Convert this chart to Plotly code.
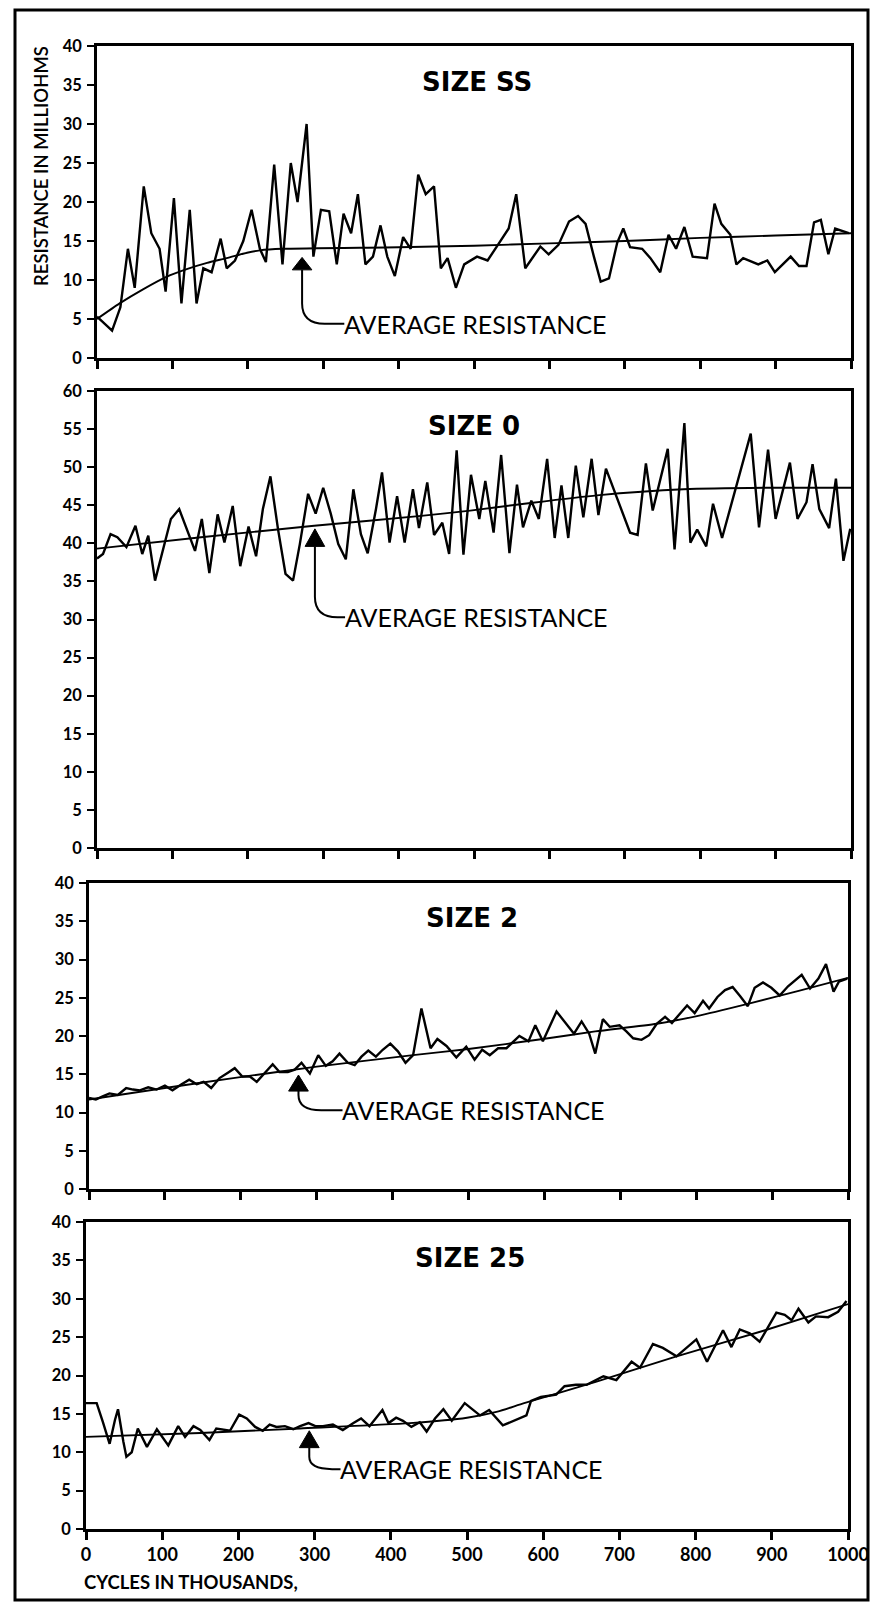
import plotly.graph_objects as go

# ---------------- data ----------------
cycle_ticks = [0, 100, 200, 300, 400, 500, 600, 700, 800, 900, 1000]
tick_labels = ["0", "100", "200", "300", "400", "500", "600", "700", "800", "900", "1000"]

ss_x = [0, 20, 31, 41, 50, 62, 72, 83, 91, 102, 112, 123, 132, 141, 152, 164, 172, 183, 194, 205,
        216, 224, 235, 246, 257, 266, 278, 287, 297, 308, 318, 327, 337, 346, 356, 366, 376, 385, 395, 406,
        416, 426, 436, 447, 456, 465, 476, 487, 504, 518, 533, 546, 556, 568, 588, 599, 612, 626, 638, 648,
        659, 668, 679, 690, 698, 707, 723, 734, 747, 758, 768, 779, 790, 809, 819, 828, 840, 848, 857, 877,
        889, 899, 920, 931, 941, 951, 960, 970, 979, 997]
ss_y = [5.3, 3.5, 6.5, 14, 9, 22, 16, 14, 8.5, 20.5, 7, 19, 7, 11.5, 11, 15.3, 11.5, 12.5, 15, 19,
        14, 12.3, 24.8, 12, 25, 20, 30, 13, 19, 18.8, 12, 18.5, 16, 21, 12, 13, 17, 13, 10.5, 15.5,
        14, 23.5, 21, 22, 11.5, 12.8, 9, 12, 13, 12.5, 14.7, 16.6, 21, 11.5, 14.3, 13.3, 14.5, 17.5, 18.2, 17.2,
        13, 9.8, 10.2, 14.8, 16.6, 14.2, 14, 12.8, 11, 15.8, 14, 16.8, 13, 12.8, 19.8, 17.2, 15.8, 12, 12.8, 12,
        12.5, 11, 13, 11.8, 11.8, 17.4, 17.7, 13.3, 16.6, 16]
ss_avg_x = [0, 30, 61, 92, 119, 146, 172, 199, 216, 246, 400, 500, 600, 700, 800, 900, 1000]
ss_avg_y = [5, 7, 8.8, 10.4, 11.4, 12.2, 12.8, 13.5, 13.8, 14, 14.2, 14.4, 14.7, 15, 15.4, 15.7, 16]

s0_x = [0, 8, 18, 27, 39, 51, 60, 68, 77, 98, 109, 130, 139, 149, 160, 169, 180, 190, 201, 211,
        220, 230, 240, 250, 260, 269, 280, 290, 300, 310, 320, 330, 340, 350, 359, 370, 378, 388, 398, 408,
        419, 427, 438, 447, 458, 467, 477, 486, 496, 507, 515, 526, 536, 547, 557, 565, 576, 586, 597, 607,
        616, 625, 635, 645, 656, 665, 675, 688, 707, 717, 728, 737, 757, 766, 779, 787, 796, 808, 817, 829,
        848, 867, 878, 890, 900, 919, 929, 941, 949, 958, 971, 980, 990, 999]
s0_y = [38, 38.6, 41.2, 40.8, 39.5, 42.3, 38.6, 41, 35.1, 43.2, 44.5, 39, 43.2, 36.1, 43.8, 40.1, 44.9, 37, 42.2, 38.3,
        44.5, 48.8, 41.9, 36, 35.1, 39.9, 46.5, 43.9, 47.3, 43.9, 39.9, 37.9, 47.1, 41.2, 38.7, 44.5, 49.3, 40.1, 46.2, 40.1,
        47.1, 42, 48, 41.1, 42.7, 38.6, 52.2, 38.5, 49, 43.2, 48.2, 41.4, 51.6, 38.7, 47.7, 42.1, 45.6, 43.2, 51.1, 40.7,
        47.6, 40.7, 50.2, 43.4, 51.1, 43.7, 49.8, 46.3, 41.4, 41.1, 50.5, 44.3, 52.4, 39.2, 55.8, 40.1, 41.8, 39.6, 45.2, 40.7,
        47.4, 54.4, 42.1, 52.3, 43.2, 50.6, 43.2, 45.4, 50.4, 44.5, 42, 48.5, 37.7, 41.9]
s0_avg_x = [0, 138, 288, 430, 495, 575, 663, 778, 885, 1000]
s0_avg_y = [39.3, 40.8, 42.3, 43.6, 44.3, 45.3, 46.3, 47.1, 47.3, 47.3]

s2_x = [0, 9, 18, 27, 38, 49, 58, 67, 78, 89, 100, 110, 122, 132, 142, 151, 161, 172, 183, 192,
        202, 212, 221, 231, 242, 251, 262, 271, 280, 291, 302, 312, 321, 330, 341, 350, 359, 368, 378, 387,
        397, 407, 417, 427, 438, 450, 459, 471, 484, 497, 508, 518, 528, 539, 550, 567, 579, 588, 598, 616,
        629, 639, 649, 659, 667, 677, 686, 699, 708, 717, 728, 738, 748, 759, 768, 779, 788, 798, 809, 817,
        828, 838, 848, 858, 868, 877, 888, 899, 910, 921, 939, 950, 961, 971, 981, 988, 999]
s2_y = [11.9, 11.7, 12.1, 12.5, 12.3, 13.2, 13, 12.9, 13.3, 13, 13.5, 12.9, 13.7, 14.3, 13.7, 14, 13.2, 14.5, 15.2, 15.8,
        14.7, 14.7, 14, 15.1, 16.3, 15.3, 15.3, 15.6, 16.5, 15.1, 17.5, 16.1, 16.7, 17.7, 16.5, 16.2, 17.3, 18.1, 17.3, 18.2,
        19, 18, 16.5, 17.5, 23.6, 18.4, 19.6, 18.7, 17.2, 18.6, 16.9, 18.2, 17.5, 18.4, 18.4, 20, 19.3, 21.4, 19.3, 23.2,
        21.6, 20.3, 21.9, 20.3, 17.7, 22.2, 21.2, 21.4, 20.6, 19.7, 19.5, 20.1, 21.6, 22.5, 21.7, 23, 24, 23, 24.6, 23.6,
        25.1, 26, 26.4, 25.2, 23.9, 26.3, 27, 26.3, 25.3, 26.5, 28, 26.2, 27.5, 29.4, 25.8, 27.1, 27.5]
s2_avg_x = [0, 100, 190, 300, 427, 500, 598, 667, 748, 801, 868, 935, 1000]
s2_avg_y = [11.7, 13.2, 14.5, 16, 17.5, 18.3, 19.6, 20.6, 21.6, 22.6, 24.2, 25.9, 27.6]

s25_x = [0, 14, 22, 31, 38, 42, 49, 53, 60, 68, 80, 93, 108, 121, 130, 141, 150, 162, 171, 189,
         201, 211, 222, 232, 241, 250, 261, 272, 281, 292, 301, 311, 324, 337, 351, 361, 372, 389, 397, 407,
         416, 427, 438, 447, 458, 469, 480, 497, 517, 529, 547, 578, 584, 597, 617, 628, 643, 657, 679, 696,
         716, 727, 744, 757, 775, 801, 815, 836, 847, 858, 871, 884, 906, 917, 926, 935, 948, 958, 974, 987, 998]
s25_y = [16.4, 16.4, 14, 11.1, 14.2, 15.6, 11.4, 9.4, 10, 13.1, 10.7, 13, 10.9, 13.4, 12, 13.4, 12.9, 11.6, 13.1, 12.8,
         14.9, 14.4, 13.3, 12.8, 13.6, 13.3, 13.4, 13, 13.4, 13.8, 13.4, 13.4, 13.6, 12.9, 13.8, 14.4, 13.4, 15.5, 13.8, 14.5,
         14.1, 13.3, 13.9, 12.7, 14.4, 15.6, 14.1, 16.4, 14.8, 15.5, 13.5, 14.8, 16.7, 17.2, 17.5, 18.6, 18.8, 18.8, 19.9, 19.4,
         21.8, 21, 24.1, 23.6, 22.5, 24.7, 21.8, 25.9, 23.7, 26, 25.5, 24.4, 28.2, 27.9, 27.2, 28.7, 26.9, 27.7, 27.6, 28.3, 29.7]
s25_avg_x = [0, 150, 281, 425, 500, 540, 575, 670, 775, 888, 1000]
s25_avg_y = [12, 12.5, 13.1, 13.8, 14.5, 15.3, 16.4, 19.2, 22.5, 25.8, 29.3]

titles = ["SIZE SS", "SIZE 0", "SIZE 2", "SIZE 25"]
y_tops = [40, 60, 40, 40]
avg_label = "AVERAGE RESISTANCE"
y_title = "RESISTANCE IN MILLIOHMS"
x_title = "CYCLES IN THOUSANDS,"

# ---------------- layout geometry (pixels) ----------------
W, H = 875, 1606
def px(x):
    return x / W
def py(y):
    return 1 - y / H

# (left, right, top, bottom) in pixels for each panel
panels = [(97, 851, 46, 358), (97, 851, 391, 848), (89, 848, 883, 1189), (86, 848, 1222, 1529)]
title_pos = [(477, 82), (474, 426), (472, 918), (470, 1258)]
# arrow geometry per panel in data units: tip x, tip y, base y, stem bottom y, text y, text x start
arrows = [(272, 12.9, 11.3, 7.0, 4.4, 325),
          (289, 41.9, 39.6, 33.0, 30.3, 326),
          (276, 14.9, 12.8, 12.3, 10.3, 331),
          (293, 12.8, 10.6, 9.4, 7.8, 331)]

FONT = "Lato"
TITLE_FONT = "DejaVu Sans"
series = [(ss_x, ss_y, ss_avg_x, ss_avg_y), (s0_x, s0_y, s0_avg_x, s0_avg_y),
          (s2_x, s2_y, s2_avg_x, s2_avg_y), (s25_x, s25_y, s25_avg_x, s25_avg_y)]

fig = go.Figure()
annotations = []
shapes = []
layout_axes = {}

for i, (sx, sy, ax_, ay_) in enumerate(series):
    n = "" if i == 0 else str(i + 1)
    xa, ya = "x" + n, "y" + n
    fig.add_trace(go.Scatter(x=ax_, y=ay_, mode="lines", line=dict(color="black", width=1.9, shape="spline", smoothing=0.6),
                             xaxis=xa, yaxis=ya, showlegend=False, hoverinfo="skip"))
    fig.add_trace(go.Scatter(x=sx, y=sy, mode="lines", line=dict(color="black", width=2.4),
                             xaxis=xa, yaxis=ya, showlegend=False))
    l, r, t, b = panels[i]
    last = (i == 3)
    layout_axes["xaxis" + n] = dict(
        domain=[px(l), px(r)], range=[0, 1000], anchor=ya, automargin=False,
        tickvals=cycle_ticks, ticktext=tick_labels, showticklabels=last,
        ticks="outside", ticklen=8, tickwidth=2.5, tickcolor="black",
        showline=True, linewidth=2.5, linecolor="black", mirror=True,
        showgrid=False, zeroline=False,
        tickfont=dict(family=FONT, size=18, color="black", weight=700))
    layout_axes["yaxis" + n] = dict(
        domain=[py(b), py(t)], range=[0, y_tops[i]], anchor=xa, automargin=False,
        dtick=5, tick0=0, ticks="outside", ticklen=7, tickwidth=2, tickcolor="black",
        showline=True, linewidth=2.5, linecolor="black", mirror=True,
        showgrid=False, zeroline=False, ticklabelstandoff=2,
        tickfont=dict(family=FONT, size=16.5, color="black", weight=700))
    # title
    tx, ty = title_pos[i]
    annotations.append(dict(x=px(tx), y=py(ty), xref="paper", yref="paper", text=titles[i],
                            showarrow=False, xanchor="center", yanchor="middle",
                            font=dict(family=TITLE_FONT, size=26, color="black", weight=700)))
    # average resistance pointer
    ax0, tip, base, stem, ty_, tx0 = arrows[i]
    hw = 13
    shapes.append(dict(type="path", xref=xa, yref=ya,
                       path=f"M {ax0} {tip} L {ax0 - hw} {base} L {ax0 + hw} {base} Z",
                       fillcolor="black", line=dict(color="black", width=1)))
    shapes.append(dict(type="path", xref=xa, yref=ya,
                       path=f"M {ax0} {base} L {ax0} {stem} Q {ax0} {ty_} {ax0 + 30} {ty_} L {tx0 + 3} {ty_}",
                       line=dict(color="black", width=2)))
    annotations.append(dict(x=tx0, y=ty_, xref=xa, yref=ya, text=avg_label, showarrow=False,
                            xanchor="left", yanchor="middle",
                            font=dict(family=FONT, size=25, color="black")))

annotations.append(dict(x=px(41), y=py(166), xref="paper", yref="paper", text=y_title, textangle=-90,
                        showarrow=False, xanchor="center", yanchor="middle",
                        font=dict(family=FONT, size=18.5, color="black", weight=600)))
annotations.append(dict(x=px(82), y=py(1582), xref="paper", yref="paper", text=x_title,
                        showarrow=False, xanchor="left", yanchor="middle",
                        font=dict(family=FONT, size=18.5, color="black", weight=700)))

shapes.append(dict(type="rect", xref="paper", yref="paper", x0=px(15), x1=px(868), y0=py(1600), y1=py(10),
                   line=dict(color="black", width=3), fillcolor="rgba(0,0,0,0)", layer="below"))

fig.update_layout(template="none", width=W, height=H, autosize=False,
                  margin=dict(l=0, r=0, t=0, b=0, pad=0, autoexpand=False),
                  paper_bgcolor="white", plot_bgcolor="white",
                  annotations=annotations, shapes=shapes, showlegend=False, **layout_axes)

fig.write_html("out.html", config={"displayModeBar": False},
               post_script="document.body.style.margin='0px';document.body.style.overflow='hidden';")
